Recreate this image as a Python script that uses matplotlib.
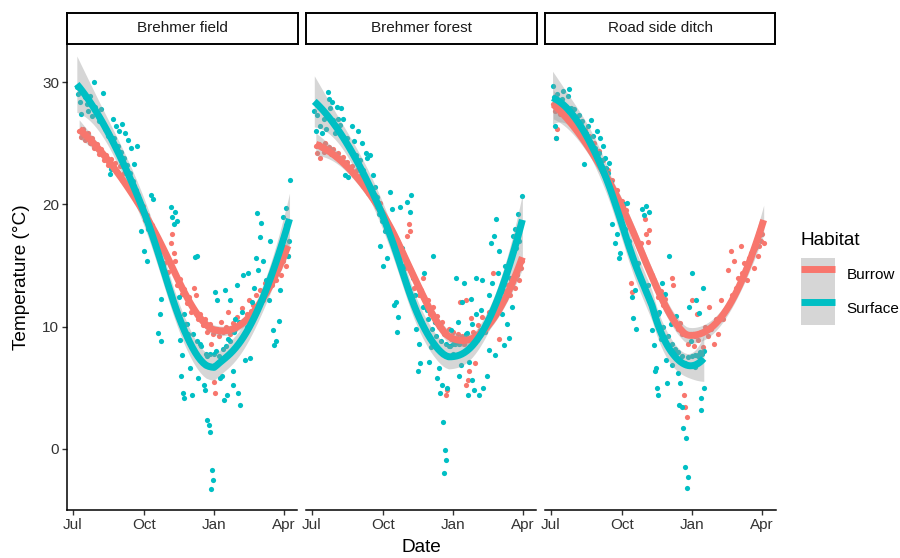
import numpy as np
import matplotlib
matplotlib.use("Agg")
import matplotlib.pyplot as plt
import matplotlib.dates as mdates
from matplotlib.lines import Line2D
from matplotlib.patches import Patch
from matplotlib.legend_handler import HandlerTuple

plt.rcParams["font.family"] = ["Liberation Sans", "DejaVu Sans"]

# ---- data: (days since 1 Jul 2019, temperature in deg C) ----
field_burrow = [
    (8, 26.0), (11, 25.5), (13, 26.2), (16, 25.3), (19, 25.8), (22, 25.0), (25, 25.4),
    (28, 24.6), (31, 24.9), (34, 24.1), (37, 24.5), (40, 23.6), (43, 24.0), (46, 23.2),
    (49, 23.7), (52, 22.9), (55, 23.4), (58, 22.6), (61, 23.1), (64, 22.0), (67, 22.6),
    (70, 21.6), (73, 22.2), (76, 21.0), (79, 21.5), (82, 20.3), (85, 20.8), (88, 19.6),
    (91, 19.9), (94, 18.7), (97, 19.1), (100, 17.8), (103, 18.3), (106, 16.9), (109, 17.4),
    (112, 16.0), (115, 16.6), (118, 15.2), (121, 15.7), (124, 14.5), (127, 16.8), (129, 17.6),
    (131, 16.0), (133, 15.4), (136, 13.4), (139, 13.9), (142, 12.7), (145, 13.1), (148, 11.9),
    (151, 12.4), (154, 11.2), (157, 13.2), (160, 12.6), (163, 10.6), (166, 11.0), (169, 10.1),
    (172, 10.6), (175, 9.6), (178, 10.2), (180, 8.6), (182, 9.4), (184, 5.5), (185, 4.6),
    (187, 9.8), (190, 9.2), (193, 10.4), (196, 9.6), (199, 10.0), (202, 11.2), (205, 9.4),
    (208, 10.3), (211, 9.8), (214, 10.8), (217, 10.2), (220, 11.5), (223, 10.5), (226, 11.0),
    (229, 12.2), (232, 11.3), (235, 11.8), (238, 12.6), (241, 11.6), (244, 13.0), (247, 12.2),
    (250, 13.6), (253, 12.8), (256, 14.2), (259, 13.4), (262, 14.6), (265, 13.8), (268, 14.8),
    (271, 14.2), (274, 15.4), (277, 15.0), (280, 15.8),
]
field_surface = [
    (5, 29.6), (7, 29.0), (9, 28.4), (11, 27.4), (12, 29.3), (15, 28.8), (18, 28.2),
    (20, 27.6), (22, 28.9), (25, 27.2), (27, 30.0), (29, 28.0), (31, 27.4), (34, 26.8),
    (37, 27.8), (39, 29.1), (42, 26.2), (45, 25.6), (48, 22.5), (50, 22.9), (52, 27.0),
    (54, 25.4), (56, 26.4), (58, 24.8), (60, 26.0), (62, 24.3), (64, 26.6), (66, 23.8),
    (68, 25.8), (70, 23.2), (72, 25.3), (74, 22.6), (76, 24.6), (78, 21.9), (80, 23.3),
    (82, 21.2), (84, 24.8), (86, 20.4), (88, 17.8), (90, 19.6), (92, 16.2), (94, 18.9),
    (96, 15.4), (98, 18.0), (101, 20.8), (104, 20.4), (106, 17.0), (109, 16.4), (111, 9.5),
    (113, 11.0), (114, 12.3), (115, 8.8), (117, 15.0), (120, 14.2), (123, 13.6), (127, 19.8),
    (129, 19.0), (131, 18.4), (133, 19.4), (136, 18.6), (138, 12.4), (140, 8.9), (141, 6.0),
    (142, 7.7), (143, 4.6), (144, 11.0), (145, 4.2), (147, 10.2), (149, 10.2), (150, 9.4),
    (153, 6.6), (155, 4.4), (156, 9.4), (159, 15.7), (161, 8.8), (162, 15.8), (163, 5.8),
    (166, 8.6), (167, 8.4), (170, 5.2), (172, 4.8), (173, 7.8), (174, 7.6), (175, 2.4),
    (177, 2.0), (178, 7.8), (179, 1.4), (180, -3.3), (181, -1.7), (182, -2.5), (183, 7.8),
    (185, 12.8), (186, 8.0), (187, 12.2), (189, 7.0), (190, 7.6), (192, 5.8), (194, 6.0),
    (195, 8.2), (197, 4.0), (198, 13.0), (199, 8.4), (200, 4.4), (202, 9.0), (204, 8.8),
    (205, 12.2), (208, 6.4), (209, 5.2), (210, 9.6), (211, 10.6), (213, 13.4), (215, 4.6),
    (216, 10.4), (218, 3.6), (220, 11.2), (221, 14.2), (224, 7.3), (226, 10.0), (228, 14.4),
    (230, 7.4), (233, 12.0), (236, 13.2), (238, 15.6), (240, 19.3), (241, 14.6), (243, 17.3),
    (245, 18.5), (247, 15.4), (249, 12.6), (252, 13.8), (255, 12.2), (257, 17.0), (260, 9.7),
    (262, 8.5), (265, 8.8), (267, 14.8), (268, 10.5), (270, 13.0), (272, 16.6), (273, 19.0),
    (275, 17.6), (277, 18.3), (278, 19.7), (280, 15.8), (281, 17.0), (282, 22.0),
]

forest_burrow = [
    (5, 24.8), (7, 24.2), (9, 24.9), (11, 23.8), (13, 24.6), (15, 24.3), (17, 25.0),
    (19, 24.4), (22, 24.7), (25, 24.1), (28, 24.5), (31, 23.9), (34, 24.2), (37, 23.6),
    (40, 23.9), (43, 23.2), (46, 23.5), (49, 22.9), (52, 23.1), (55, 22.4), (58, 22.8),
    (61, 22.0), (64, 22.4), (67, 21.5), (70, 21.9), (73, 20.9), (76, 21.3), (79, 20.4),
    (82, 20.8), (85, 19.8), (88, 20.1), (91, 19.0), (94, 18.6), (97, 18.0), (100, 18.3),
    (103, 17.2), (106, 17.6), (109, 16.6), (112, 16.9), (115, 15.6), (118, 15.9), (121, 14.8),
    (124, 17.4), (126, 18.4), (128, 17.8), (130, 14.2), (133, 13.2), (136, 13.6), (139, 12.6),
    (142, 13.0), (145, 14.0), (148, 11.6), (151, 12.2), (154, 11.0), (157, 11.6), (160, 10.4),
    (163, 10.9), (166, 10.0), (169, 10.4), (172, 9.4), (175, 4.4), (176, 4.8), (178, 9.8),
    (181, 9.0), (184, 9.6), (187, 8.8), (190, 9.4), (193, 12.0), (196, 9.2), (198, 8.6),
    (200, 12.2), (201, 5.2), (203, 5.6), (205, 6.4), (207, 10.7), (210, 9.6), (212, 7.0),
    (213, 9.2), (216, 10.1), (219, 9.7), (222, 10.8), (225, 10.2), (228, 10.6), (231, 11.2),
    (234, 10.6), (236, 14.4), (237, 11.8), (240, 11.2), (243, 12.4), (244, 9.0), (246, 11.8),
    (249, 13.0), (252, 12.3), (255, 13.4), (258, 12.6), (261, 13.8), (264, 13.2), (267, 14.2),
    (270, 13.8), (272, 14.8), (274, 15.4),
]
forest_surface = [
    (3, 27.6), (5, 26.0), (7, 27.3), (9, 28.0), (11, 26.4), (13, 25.8), (15, 27.0),
    (18, 26.2), (21, 29.2), (22, 28.6), (24, 27.9), (26, 28.4), (28, 26.9), (30, 25.8),
    (32, 28.0), (34, 27.0), (36, 26.5), (38, 27.9), (40, 27.0), (43, 22.4), (45, 25.4),
    (47, 22.2), (50, 24.6), (52, 26.4), (55, 25.2), (57, 24.0), (60, 26.0), (62, 23.6),
    (65, 25.0), (67, 22.8), (70, 24.2), (72, 23.8), (74, 21.6), (76, 24.0), (78, 21.0),
    (80, 22.4), (82, 21.4), (85, 20.6), (87, 19.2), (89, 16.6), (91, 18.6), (93, 15.0),
    (95, 17.8), (98, 15.6), (102, 21.0), (104, 19.6), (107, 11.8), (109, 12.0), (111, 9.6),
    (112, 10.8), (114, 19.8), (117, 16.4), (120, 15.0), (124, 20.2), (127, 19.4), (129, 20.8),
    (132, 14.0), (134, 12.6), (136, 9.8), (138, 6.4), (140, 8.6), (141, 7.0), (143, 10.3),
    (145, 11.6), (146, 14.4), (150, 11.4), (151, 10.6), (153, 7.1), (155, 8.3), (156, 9.8),
    (157, 15.8), (160, 10.4), (161, 9.2), (163, 5.8), (165, 6.6), (167, 4.6), (168, 8.8),
    (169, 5.2), (171, 2.2), (172, -2.0), (173, -0.1), (174, -0.9), (175, 8.6), (176, 5.0),
    (178, 8.4), (180, 8.4), (181, 9.7), (183, 8.6), (184, 7.8), (186, 8.6), (187, 14.0),
    (190, 10.4), (191, 8.6), (192, 6.0), (194, 6.9), (196, 12.0), (197, 8.9), (198, 13.6),
    (201, 9.4), (202, 9.5), (203, 4.4), (205, 7.1), (207, 12.3), (208, 10.2), (209, 5.6),
    (211, 4.8), (213, 14.0), (214, 11.0), (215, 8.9), (218, 4.4), (220, 11.4), (221, 13.8),
    (223, 5.0), (225, 9.6), (228, 6.0), (230, 12.6), (231, 8.1), (233, 16.8), (235, 13.6),
    (237, 17.4), (238, 7.7), (240, 18.8), (242, 14.4), (244, 16.2), (246, 12.8), (248, 11.0),
    (250, 8.5), (252, 15.0), (254, 10.2), (256, 9.1), (258, 14.0), (260, 11.6), (262, 17.4),
    (264, 18.0), (266, 16.4), (268, 19.2), (270, 17.0), (272, 18.4), (274, 20.7),
]

ditch_burrow = [
    (3, 28.2), (5, 27.6), (6, 25.4), (8, 26.2), (10, 27.9), (12, 27.4), (14, 28.0),
    (17, 27.2), (20, 27.6), (23, 26.9), (26, 27.4), (29, 26.7), (32, 27.0), (35, 26.3),
    (38, 26.6), (41, 25.8), (44, 26.1), (47, 25.2), (50, 25.6), (53, 24.6), (56, 25.0),
    (59, 24.0), (62, 24.4), (65, 23.2), (68, 23.6), (71, 22.4), (74, 22.8), (77, 21.6),
    (80, 22.0), (83, 20.8), (86, 21.2), (89, 20.0), (92, 20.3), (95, 19.2), (98, 19.5),
    (101, 18.4), (104, 13.6), (106, 12.8), (108, 17.6), (111, 17.0), (114, 16.4), (117, 16.8),
    (120, 15.6), (122, 18.8), (124, 17.6), (126, 16.9), (128, 17.9), (131, 14.2), (134, 13.8),
    (137, 13.2), (140, 12.4), (143, 12.9), (146, 11.8), (149, 12.3), (152, 11.3), (155, 11.0),
    (157, 14.0), (159, 13.4), (162, 10.4), (165, 9.8), (168, 10.3), (171, 9.4), (173, 4.4),
    (175, 3.4), (177, 2.6), (179, 8.6), (182, 9.4), (184, 12.2), (186, 8.4), (188, 9.2),
    (190, 11.0), (192, 8.9), (195, 9.6), (198, 8.3), (201, 10.0), (204, 9.2), (206, 11.6),
    (209, 9.8), (212, 8.6), (215, 10.6), (218, 9.4), (221, 12.2), (224, 10.6), (227, 11.4),
    (230, 14.6), (232, 11.8), (234, 16.2), (236, 12.6), (239, 15.4), (241, 13.2), (244, 14.0),
    (247, 16.6), (249, 14.4), (252, 15.2), (255, 13.8), (258, 15.6), (261, 16.0), (264, 14.8),
    (266, 16.4), (269, 15.8), (271, 16.6), (273, 17.0), (275, 17.6), (277, 16.8),
]
ditch_surface = [
    (2, 29.7), (4, 28.8), (5, 26.4), (6, 25.4), (8, 29.0), (10, 28.2), (12, 27.6),
    (14, 28.6), (16, 29.3), (18, 27.4), (20, 28.0), (22, 28.9), (24, 29.4), (26, 27.9),
    (28, 27.2), (30, 27.8), (33, 26.9), (36, 27.3), (39, 26.4), (41, 26.8), (43, 23.3),
    (45, 25.8), (48, 26.4), (50, 25.2), (52, 26.9), (55, 25.6), (57, 24.6), (60, 26.0),
    (62, 24.2), (64, 25.4), (66, 23.6), (68, 24.8), (70, 23.8), (72, 23.0), (74, 22.6),
    (76, 23.4), (78, 21.8), (80, 18.4), (82, 21.0), (84, 16.8), (86, 17.6), (88, 15.6),
    (90, 16.0), (92, 19.4), (95, 20.0), (97, 18.0), (99, 20.1), (102, 17.0), (105, 12.4),
    (107, 10.7), (109, 13.0), (111, 9.8), (113, 15.2), (116, 14.0), (119, 19.6), (121, 19.1),
    (124, 19.9), (126, 13.4), (128, 19.4), (130, 12.0), (132, 9.7), (134, 8.5), (136, 6.4),
    (137, 6.6), (138, 5.0), (139, 4.4), (140, 11.0), (141, 11.2), (143, 9.0), (145, 13.6),
    (146, 10.0), (148, 12.7), (150, 7.3), (151, 5.4), (152, 9.2), (154, 15.8), (156, 10.2),
    (157, 8.6), (158, 6.9), (160, 8.0), (162, 8.2), (163, 10.9), (165, 6.2), (166, 7.9),
    (167, 3.6), (168, 5.4), (170, 3.4), (171, 7.6), (172, 1.7), (174, 7.0), (175, -1.5),
    (176, 0.9), (177, -3.2), (178, -2.3), (179, 7.5), (180, 11.6), (182, 8.8), (183, 14.4),
    (184, 7.6), (185, 9.4), (187, 6.7), (188, 7.7), (189, 12.2), (191, 7.6), (192, 7.7),
    (193, 11.1), (194, 7.9), (195, 4.2), (196, 3.2), (197, 7.8), (198, 13.2), (199, 5.0),
    (199, 8.0),
]

sites = ["Brehmer field", "Brehmer forest", "Road side ditch"]
site_data = {
    "Brehmer field": (field_burrow, field_surface),
    "Brehmer forest": (forest_burrow, forest_surface),
    "Road side ditch": (ditch_burrow, ditch_surface),
}
habitats = ["Burrow", "Surface"]
colors = {"Burrow": "#F8766D", "Surface": "#00BFC4"}

start = np.datetime64("2019-07-01")
start_num = mdates.date2num(start)


def loess(x, y, xs, span=0.75):
    """degree-2 loess with tricube weights, plus pointwise standard errors"""
    n = len(x)
    q = int(np.floor(n * span))

    def row(x0):
        d = np.abs(x - x0)
        h = np.sort(d)[q - 1]
        w = np.clip(1 - (d / h) ** 3, 0, None) ** 3
        X = np.column_stack([np.ones(n), x - x0, (x - x0) ** 2])
        XtW = X.T * w
        return np.linalg.solve(XtW @ X, XtW)[0]

    L = np.array([row(v) for v in x])
    IL = np.eye(n) - L
    M = IL.T @ IL
    sigma = np.sqrt(np.sum((IL @ y) ** 2) / np.trace(M))
    Ls = np.array([row(v) for v in xs])
    return Ls @ y, sigma * np.sqrt((Ls ** 2).sum(axis=1))


fig = plt.figure(figsize=(9, 5.58), dpi=100)
W, H = 900, 558
panel_left = [67, 306, 545]
panel_w = 230.5

for i, site in enumerate(sites):
    ax = fig.add_axes([panel_left[i] / W, 48 / H, panel_w / W, 465 / H])
    series = dict(zip(habitats, site_data[site]))

    # ---- points ----
    for hab in habitats:
        d, t = np.array(series[hab], dtype=float).T
        ax.scatter(start + d.astype("timedelta64[D]"), t, s=14, color=colors[hab],
                   linewidths=0, zorder=2)

    # ---- smooths with confidence band ----
    for hab in habitats:
        d, t = np.array(series[hab], dtype=float).T
        grid = np.linspace(d.min(), d.max(), 80)
        fit, se = loess(d, t, grid)
        gx = start_num + grid
        ax.fill_between(gx, fit - 1.97 * se, fit + 1.97 * se, color="#999999",
                        alpha=0.4, linewidth=0, zorder=3)
        ax.plot(gx, fit, color=colors[hab], lw=5, solid_capstyle="butt", zorder=4)

    ax.set_xlim(start_num - 7.8, start_num + 292.4)
    ax.set_ylim(-4.99, 33.03)
    ax.xaxis.set_major_locator(mdates.MonthLocator(bymonth=[1, 4, 7, 10]))
    ax.xaxis.set_major_formatter(mdates.DateFormatter("%b"))
    ax.set_yticks([0, 10, 20, 30])
    ax.tick_params(length=3.5, width=1.0, color="#333333", labelsize=11,
                   labelcolor="#333333", pad=2)
    for s in ["top", "right"]:
        ax.spines[s].set_visible(False)
    ax.spines["bottom"].set_linewidth(1.1)
    ax.spines["left"].set_linewidth(1.1)
    if i > 0:
        ax.spines["left"].set_visible(False)
        ax.tick_params(axis="y", left=False, labelleft=False)

    # ---- strip ----
    sax = fig.add_axes([panel_left[i] / W, 514 / H, panel_w / W, 31 / H])
    sax.set_xticks([])
    sax.set_yticks([])
    for s in sax.spines.values():
        s.set_linewidth(1.4)
    sax.text(0.5, 0.5, site, ha="center", va="center", fontsize=11,
             color="#1A1A1A", transform=sax.transAxes)

fig.text(22 / W, 1 - 277 / H, "Temperature (\u00b0C)", rotation=90, ha="center",
         va="center", fontsize=13.7)
fig.text(421 / W, 1 - 547 / H, "Date", ha="center", va="center", fontsize=13.7)

# ---- legend ----
fig.text(801 / W, 1 - 240 / H, "Habitat", ha="left", va="center", fontsize=13.7)
handles = [(Patch(facecolor="#D6D6D6", edgecolor="none"),
            Line2D([], [], color=colors[h], lw=5, solid_capstyle="butt")) for h in habitats]
leg = fig.legend(handles, habitats, loc="upper left",
                 bbox_to_anchor=(801 / W, 1 - 258 / H),
                 handler_map={tuple: HandlerTuple(ndivide=1, pad=0)},
                 frameon=False, fontsize=11,
                 handlelength=2.2, handleheight=3.0, labelspacing=0,
                 handletextpad=0.8, borderpad=0, borderaxespad=0)

fig.savefig("out.png", dpi=100)
